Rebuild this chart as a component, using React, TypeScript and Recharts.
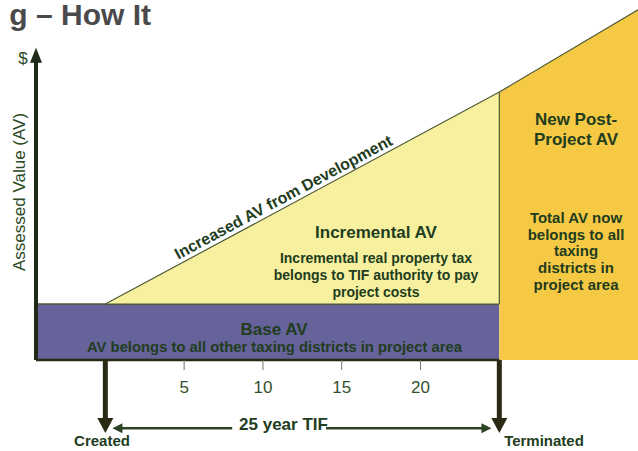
import React from "react";
import { ComposedChart, Area, XAxis, YAxis, ReferenceLine } from "recharts";

// years on the x axis (0 = TIF created, 25 = TIF terminated)
const years = [-4.4, 0, 25, 33.8];
const baseAV = [10, 10, 10, null];
const incrementalAV = [null, 10, 47.9, null];
const postProjectAV = [null, null, 47.9, 62.6];
const yearTicks = [5, 10, 15, 20];

// arrow / guide positions in data units
const axisTopAV = 55.8;
const arrowTipAV = -13.05;
const tifLineAV = -12.2;
const tifLeft = [0.45, 8.05];
const tifRight = [14.0, 24.5];

const data = years.map((year, i) => ({
  year,
  base: baseAV[i],
  incr: incrementalAV[i] == null ? null : [baseAV[i], incrementalAV[i]],
  post: postProjectAV[i],
}));

const FONT = "'Liberation Sans', Arial, sans-serif";
const TXT = "#223c1e";
const DARK = "#2a2a14";
const EDGE = "#4e5a36";

const arrow = (color: string, width: number, headLen: number, headHalf: number) => (p: any) => {
  const { x1, y1, x2, y2 } = p;
  const dx = x2 - x1;
  const dy = y2 - y1;
  const len = Math.hypot(dx, dy) || 1;
  const ux = dx / len;
  const uy = dy / len;
  const bx = x2 - ux * headLen;
  const by = y2 - uy * headLen;
  const px = -uy * headHalf;
  const py = ux * headHalf;
  return (
    <g>
      <line x1={x1} y1={y1} x2={bx + ux} y2={by + uy} stroke={color} strokeWidth={width} />
      <polygon points={`${x2},${y2} ${bx + px},${by + py} ${bx - px},${by - py}`} fill={color} />
    </g>
  );
};

function Labels() {
  const b = { fontFamily: FONT, fontWeight: 700, fill: TXT, textAnchor: "middle" as const };
  return (
    <svg width={638} height={451} style={{ position: "absolute", left: 0, top: 0, pointerEvents: "none" }}>
      <text x={151} y={25} fontFamily={FONT} fontWeight={700} fontSize={30} fill="#4a4a4c" textAnchor="end">
        g – How It
      </text>
      <text x={23} y={64} fontFamily={FONT} fontSize={17} fill="#2b4a26" textAnchor="middle">$</text>
      <text x={25} y={192} transform="rotate(-90 25 192)" fontFamily={FONT} fontSize={17} fill="#2b4a26" textAnchor="middle">
        Assessed Value (AV)
      </text>
      <text x={286} y={202} transform="rotate(-28.2 286 202)" {...b} fontSize={16}>
        Increased AV from Development
      </text>
      <text x={376} y={238} {...b} fontSize={17}>Incremental AV</text>
      <text x={376} y={263} {...b} fontSize={14}>Incremental real property tax</text>
      <text x={376} y={280} {...b} fontSize={14}>belongs to TIF authority to pay</text>
      <text x={376} y={297} {...b} fontSize={14}>project costs</text>
      <text x={576} y={125} {...b} fontSize={17}>New Post-</text>
      <text x={576} y={145} {...b} fontSize={17}>Project AV</text>
      <text x={576} y={223} {...b} fontSize={15}>Total AV now</text>
      <text x={576} y={240} {...b} fontSize={15}>belongs to all</text>
      <text x={576} y={256} {...b} fontSize={15}>taxing</text>
      <text x={576} y={273} {...b} fontSize={15}>districts in</text>
      <text x={576} y={290} {...b} fontSize={15}>project area</text>
      <text x={274} y={335} {...b} fontSize={17}>Base AV</text>
      <text x={274.5} y={352} {...b} fontSize={15} textLength={375} lengthAdjust="spacingAndGlyphs">
        AV belongs to all other taxing districts in project area
      </text>
      <text x={283.5} y={430} {...b} fontSize={17}>25 year TIF</text>
      <text x={102} y={446} {...b} fontSize={15}>Created</text>
      <text x={544} y={446} {...b} fontSize={15}>Terminated</text>
    </svg>
  );
}

export default function App() {
  return (
    <div style={{ position: "absolute", left: 0, top: 0, width: 638, height: 451, background: "#fff" }}>
      <ComposedChart width={638} height={451} data={data} margin={{ top: 2, right: 0, left: 36, bottom: 61 }}>
        <XAxis
          type="number"
          dataKey="year"
          domain={[-4.4, 33.8]}
          ticks={yearTicks}
          axisLine={false}
          tickLine={{ stroke: "#6d7c62" }}
          tickSize={10}
          tickMargin={11}
          height={30}
          tick={{ fill: "#34502c", fontSize: 17, fontFamily: FONT }}
        />
        <YAxis type="number" hide domain={[0, 64]} />
        <Area type="linear" dataKey="base" baseValue={0} fill="#656399" fillOpacity={1} stroke={EDGE} strokeWidth={1.5} dot={false} activeDot={false} isAnimationActive={false} />
        <Area type="linear" dataKey="incr" fill="#f7f19f" fillOpacity={1} stroke={EDGE} strokeWidth={1.2} dot={false} activeDot={false} isAnimationActive={false} />
        <Area type="linear" dataKey="post" baseValue={0} fill="#f6c945" fillOpacity={1} stroke={EDGE} strokeWidth={1.2} dot={false} activeDot={false} isAnimationActive={false} />
        <ReferenceLine ifOverflow="visible" segment={[{ x: 25, y: 10 }, { x: 25, y: 47.9 }]} stroke={EDGE} strokeWidth={1.2} />
        <ReferenceLine ifOverflow="visible" segment={[{ x: -4.4, y: 0 }, { x: 25, y: 0 }]} stroke={DARK} strokeWidth={2.5} />
        <ReferenceLine ifOverflow="visible" segment={[{ x: -4.4, y: 0 }, { x: -4.4, y: axisTopAV }]} shape={arrow("#1f2b16", 4, 15, 6)} />
        <ReferenceLine ifOverflow="visible" segment={[{ x: 0, y: 0 }, { x: 0, y: arrowTipAV }]} shape={arrow(DARK, 5, 15, 8)} />
        <ReferenceLine ifOverflow="visible" segment={[{ x: 25, y: 0 }, { x: 25, y: arrowTipAV }]} shape={arrow(DARK, 5, 15, 8)} />
        <ReferenceLine ifOverflow="visible" segment={[{ x: tifLeft[1], y: tifLineAV }, { x: tifLeft[0], y: tifLineAV }]} shape={arrow("#2d4424", 2.5, 10, 5)} />
        <ReferenceLine ifOverflow="visible" segment={[{ x: tifRight[0], y: tifLineAV }, { x: tifRight[1], y: tifLineAV }]} shape={arrow("#2d4424", 2.5, 10, 5)} />
      </ComposedChart>
      <Labels />
    </div>
  );
}
